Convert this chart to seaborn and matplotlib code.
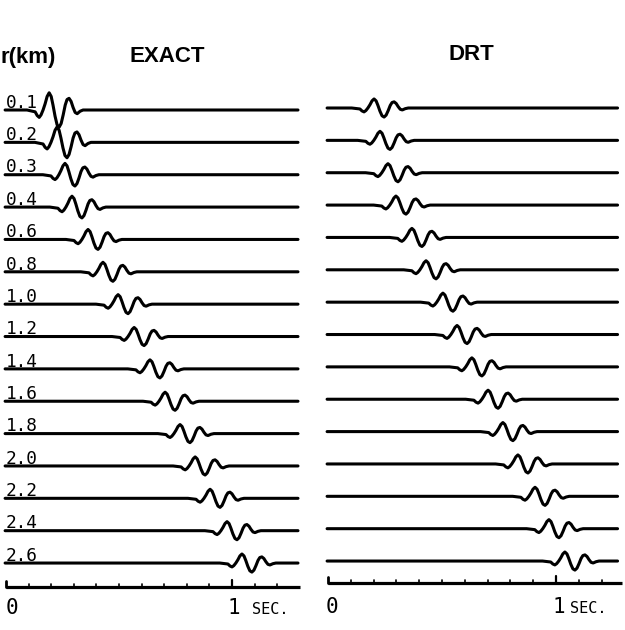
import matplotlib
matplotlib.use("Agg")
import numpy as np
import pandas as pd
import matplotlib.pyplot as plt
import seaborn as sns

# distances of the receivers (km), top to bottom
distances = ["0.1", "0.2", "0.3", "0.4", "0.6", "0.8", "1.0", "1.2",
             "1.4", "1.6", "1.8", "2.0", "2.2", "2.4", "2.6"]

# time (s) of the main trough of each trace
exact_trough = [0.235, 0.270, 0.305, 0.336, 0.407, 0.473, 0.540, 0.611,
                0.681, 0.748, 0.814, 0.881, 0.947, 1.022, 1.088]
exact_scale = [1.9, 1.7, 1.25, 1.2, 1.1, 1.05, 1.05, 1.0,
               1.0, 1.0, 1.0, 1.0, 1.0, 1.0, 1.0]

drt_trough = [0.246, 0.272, 0.307, 0.342, 0.412, 0.474, 0.548, 0.610,
              0.675, 0.746, 0.811, 0.877, 0.952, 1.013, 1.083]
drt_scale = [1.0, 1.0, 1.0, 1.0, 1.0, 1.0, 1.0, 1.0,
             1.0, 1.0, 1.0, 1.0, 1.0, 1.0, 1.0]

# wavelet shape (offset from trough in s, height in trace spacings)
wavelet_dt = [-0.142, -0.106, -0.097, -0.088, -0.080, -0.071, -0.062, -0.053,
              -0.044, -0.035, -0.027, -0.018, -0.009, 0.0, 0.009, 0.018,
              0.027, 0.035, 0.044, 0.053, 0.062, 0.071, 0.080, 0.093, 0.106]
wavelet_amp = [0.0, -0.03, -0.09, -0.12, -0.08, 0.0, 0.10, 0.22,
               0.28, 0.22, 0.08, -0.10, -0.24, -0.28, -0.22, -0.08,
               0.08, 0.17, 0.19, 0.14, 0.04, -0.04, -0.06, -0.02, 0.0]

tick_times = [0.1, 0.2, 0.3, 0.4, 0.5, 0.6, 0.7, 0.8, 0.9, 1.1, 1.2]


def traces(troughs, scales, t_start, t_end):
    rows = []
    for i, (t0, s) in enumerate(zip(troughs, scales)):
        rows.append((i, t_start, i))
        for dt, a in zip(wavelet_dt, wavelet_amp):
            rows.append((i, t0 + dt, i - s * a))
        rows.append((i, t_end, i))
    return pd.DataFrame(rows, columns=["trace", "t", "y"])


sns.set_style("white")
plt.rcParams["font.family"] = ["DejaVu Sans"]

fig = plt.figure(figsize=(6.25, 6.3), dpi=100)
ax1 = fig.add_axes([0, 0, 310 / 625, 1])
ax2 = fig.add_axes([310 / 625, 0, 315 / 625, 1])

mono = dict(family="DejaVu Sans Mono", color="black")
bold = dict(family="Liberation Sans", fontweight="bold", fontsize=16,
            color="black")

# EXACT panel
df1 = traces(exact_trough, exact_scale, -0.004, 1.292)
sns.lineplot(data=df1, x="t", y="y", units="trace", estimator=None,
             sort=False, color="black", lw=2.2, ax=ax1, legend=False)
ax1.set_xlim(-6 / 226, 304 / 226)
ax1.set_ylim(520 / 32.36, -110 / 32.36)
for i, d in enumerate(distances):
    ax1.text(0.0, i - 0.07, d, ha="left", va="baseline", fontsize=12.8, **mono)
y_ax = 14.74
ax1.plot([0, 1.30], [y_ax, y_ax], color="black", lw=2.3, solid_capstyle="butt")
ax1.plot([0, 0], [y_ax, y_ax - 0.19], color="black", lw=2.0)
ax1.plot([1.0, 1.0], [y_ax, y_ax - 0.22], color="black", lw=1.6)
for tt in tick_times:
    ax1.plot([tt, tt], [y_ax, y_ax - 0.1], color="black", lw=1.2)
ax1.text(-0.002, 15.57, "0", ha="left", va="baseline", fontsize=15, **mono)
ax1.text(1.01, 15.57, "1", ha="center", va="baseline", fontsize=15, **mono)
ax1.text(1.088, 15.57, "SEC.", ha="left", va="baseline", fontsize=11, **mono)

# DRT panel
df2 = traces(drt_trough, drt_scale, -0.004, 1.27)
sns.lineplot(data=df2, x="t", y="y", units="trace", estimator=None,
             sort=False, color="black", lw=2.2, ax=ax2, legend=False)
ax2.set_xlim(-18 / 228, 297 / 228)
ax2.set_ylim(522 / 32.36, -108 / 32.36)
y_ax2 = 14.68
ax2.plot([0, 1.29], [y_ax2, y_ax2], color="black", lw=2.3, solid_capstyle="butt")
ax2.plot([0, 0], [y_ax2, y_ax2 - 0.19], color="black", lw=2.0)
ax2.plot([1.0, 1.0], [y_ax2, y_ax2 - 0.22], color="black", lw=1.6)
for tt in tick_times:
    ax2.plot([tt, tt], [y_ax2, y_ax2 - 0.1], color="black", lw=1.2)
ax2.text(0.018, 15.6, "0", ha="center", va="baseline", fontsize=15, **mono)
ax2.text(1.013, 15.6, "1", ha="center", va="baseline", fontsize=15, **mono)
ax2.text(1.061, 15.6, "SEC.", ha="left", va="baseline", fontsize=11, **mono)

for ax in (ax1, ax2):
    ax.axis("off")

fig.text(1 / 625, 1 - 57 / 630, "r(km)", ha="left", va="center", **bold)
fig.text(167 / 625, 1 - 57 / 630, "EXACT", ha="center", va="center", **bold)
fig.text(471 / 625, 1 - 55 / 630, "DRT", ha="center", va="center", **bold)

fig.savefig("out.png", dpi=100, facecolor="white")
